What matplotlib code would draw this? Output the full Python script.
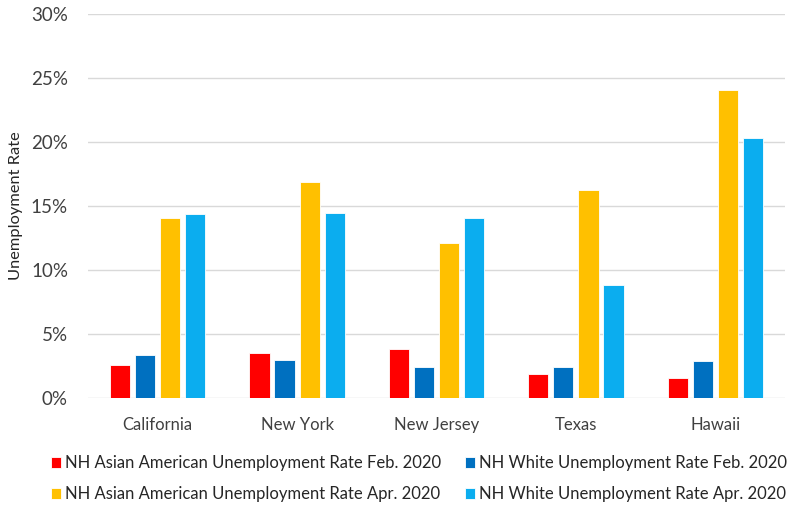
import numpy as np
import matplotlib.pyplot as plt
from matplotlib.ticker import PercentFormatter

plt.rcParams['font.family'] = ['Lato', 'DejaVu Sans']

states = ['California', 'New York', 'New Jersey', 'Texas', 'Hawaii']
asian_feb = [2.55, 3.5, 3.85, 1.85, 1.6]
white_feb = [3.35, 2.95, 2.4, 2.4, 2.9]
asian_apr = [14.1, 16.9, 12.15, 16.25, 24.1]
white_apr = [14.4, 14.45, 14.1, 8.85, 20.3]

series = [
    ('NH Asian American Unemployment Rate Feb. 2020', asian_feb, '#FF0000'),
    ('NH White Unemployment Rate Feb. 2020', white_feb, '#0070C0'),
    ('NH Asian American Unemployment Rate Apr. 2020', asian_apr, '#FFC000'),
    ('NH White Unemployment Rate Apr. 2020', white_apr, '#0BADEF'),
]

fig = plt.figure(figsize=(7.89, 5.09), dpi=100)
ax = fig.add_axes([0.1115, 0.218, 0.8835, 0.7545])

x = np.arange(len(states))
width = 0.145
step = 0.18
bars = []
for i, (label, vals, color) in enumerate(series):
    b = ax.bar(x + (i - 1.5) * step, vals, width, color=color, label=label,
               edgecolor='white', linewidth=0.6, zorder=3)
    bars.append(b)

ax.set_xlim(-0.5, len(states) - 0.5)
ax.set_ylim(0, 30)
ax.set_yticks(np.arange(0, 31, 5))
ax.yaxis.set_major_formatter(PercentFormatter(decimals=0))
ax.grid(axis='y', color='#D9D9D9', linewidth=1, zorder=0)
ax.set_axisbelow(True)
for s in ['top', 'right', 'left', 'bottom']:
    ax.spines[s].set_visible(False)
ax.tick_params(axis='both', length=0, colors='#404040')
ax.tick_params(axis='y', pad=14.4, labelsize=13.5)
ax.tick_params(axis='x', pad=13.5, labelsize=12)
ax.set_xticks(x)
ax.set_xticklabels(states)
ax.set_ylabel('Unemployment Rate', fontsize=11.8, color='#262626')
ax.yaxis.set_label_coords(-0.093, 0.5)

handles = [bars[0], bars[2], bars[1], bars[3]]
fig.legend(handles, [h.get_label() for h in handles], ncol=2,
           loc='lower left', bbox_to_anchor=(0.056, 0.0), frameon=False,
           borderaxespad=0, fontsize=12, handlelength=0.6, handleheight=0.6,
           handletextpad=0.24, columnspacing=1.44, labelspacing=0.9,
           labelcolor='#262626')

fig.savefig('out.png', dpi=100)
